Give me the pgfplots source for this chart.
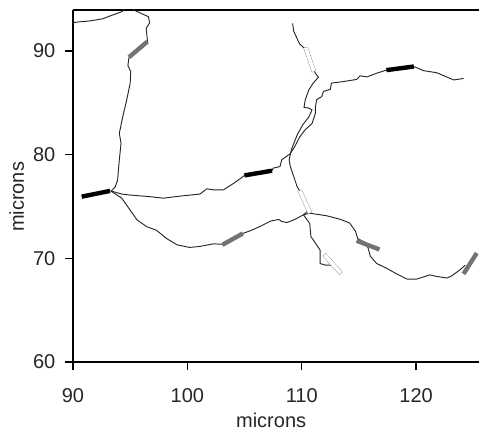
\documentclass[border=0pt]{standalone}
\usepackage{fontspec}
\setmainfont{Liberation Sans}
\usepackage{pgfplots}
\pgfplotsset{compat=1.18}
\begin{document}
\begin{tikzpicture}
\begin{axis}[
    name=ax,
    scale only axis,
    width=304.5pt, height=264pt,
    xmin=90, xmax=125.5, ymin=60, ymax=93.95,
    axis x line*=box, axis y line*=left,
    axis line style={-, line width=1.1pt, black},
    xtick pos=bottom, ytick pos=left,
    xtick={90,100,110,120}, ytick={60,70,80,90},
    tick align=outside,
    major tick length=6pt,
    every tick/.style={black, line width=1.1pt},
    /pgf/number format/assume math mode=true,
    tick label style={font=\fontsize{15}{18}\selectfont, text=black!85},
    label style={font=\fontsize{15}{18}\selectfont, text=black!85},
    xticklabel style={yshift=-10pt},
    yticklabel style={xshift=-3.75pt},
    xlabel={microns}, ylabel={microns},
    xlabel style={at={(axis description cs:0.488,-0.165)}, anchor=center},
    ylabel style={at={(axis description cs:-0.1387,0.469)}, anchor=center},
    fiber/.style={black!85, line width=0.7pt, no marks},
    seg/.style={line width=3.3pt, no marks},
]
% fibres
\addplot[fiber] coordinates {
 (89.8,92.7) (90.5,92.8) (91.5,92.9) (92.6,93.1) (93.3,93.4) (94.3,93.8) (94.6,94.2)
 (95.1,94.2) (95.4,93.9) (96.6,93.3) (96.7,92.7) (96.4,92.2) (96.5,91.05) (96.5,90.9)
 (94.9,89.4) (94.8,88.6) (95.05,88.0) (95.0,86.9) (94.7,85.3) (94.35,83.65) (94.05,82.05)
 (94.2,81.1) (94.05,79.5) (93.9,77.55) (93.7,76.9) (93.4,76.55) (93.3,76.5)
};
\addplot[fiber] coordinates {
 (93.3,76.5) (94.26,76.2) (95.0,76.1) (96.7,75.95) (97.9,75.8) (99.36,76.0) (101.1,76.2)
 (101.7,76.7) (102.3,76.6) (103.15,76.6) (104.0,77.2) (104.9,77.9) (105.0,78.0) (107.4,78.45)
 (107.5,78.7) (108.1,78.85) (108.25,79.5) (109.0,80.1) (109.4,80.8) (109.85,81.75) (110.3,82.4)
 (110.9,83.0) (111.2,84.0) (111.2,84.6) (111.3,85.3) (111.75,85.6) (111.9,86.1) (112.5,86.3)
 (112.6,86.9) (113.65,87.05) (114.8,87.25) (115.1,87.6) (115.7,87.5) (116.55,87.85) (117.4,88.15)
 (119.8,88.5) (120.65,88.1) (121.8,87.9) (123.3,87.2) (124.15,87.35)
};
\addplot[fiber] coordinates {
 (109.2,92.65) (109.3,91.9) (109.8,90.7) (110.3,90.2) (111.0,88.2) (111.45,87.45) (111.0,86.9)
 (110.6,86.2) (110.3,85.25) (110.2,84.55) (110.6,84.5) (110.9,84.3) (110.6,83.6) (110.1,82.9)
 (109.6,81.9) (109.1,80.5) (108.9,79.5) (109.0,78.85) (109.3,77.9) (109.6,76.9) (109.85,76.45)
 (110.6,74.6) (110.15,74.2)
};
\addplot[fiber] coordinates {
 (93.3,76.5) (94.26,75.8) (95.0,74.65) (95.6,73.7) (96.45,73.05) (97.3,72.7) (98.2,71.9)
 (99.1,71.3) (100.2,71.05) (101.1,71.15) (102.3,71.4) (103.06,71.35) (104.85,72.4) (105.6,72.7)
 (106.4,73.1) (107.3,73.6) (108.0,73.75) (108.25,73.55) (108.7,73.45) (109.4,73.75) (110.15,74.2)
};
\addplot[fiber] coordinates {
 (110.15,74.2) (110.7,74.35) (112.2,74.1) (113.4,73.75) (114.2,73.4) (114.7,72.6) (114.9,71.9)
 (115.6,71.5) (115.8,71.0) (116.0,70.2) (116.55,69.5) (117.4,69.05) (118.3,68.5) (119.2,68.0)
 (120.05,68.0) (121.2,68.4) (121.8,68.25) (122.7,68.1) (123.1,68.3) (123.85,68.9) (124.3,69.35)
};
\addplot[fiber] coordinates {
 (110.15,74.2) (110.7,73.35) (110.8,72.1) (111.3,71.3) (111.6,70.8) (111.6,69.5) (112.05,69.35)
 (112.6,69.35)
};
% black segments
\addplot[seg, black] coordinates {(90.76,75.95) (93.24,76.5)};
\addplot[seg, black] coordinates {(105.0,78.0) (107.4,78.45)};
\addplot[seg, black] coordinates {(117.4,88.15) (119.8,88.5)};
% grey segments
\addplot[seg, black!55] coordinates {(96.5,90.9) (94.9,89.4)};
\addplot[seg, black!55] coordinates {(103.06,71.3) (104.85,72.4)};
\addplot[seg, black!55] coordinates {(114.8,71.7) (116.8,70.85)};
\addplot[seg, black!55] coordinates {(124.15,68.5) (125.3,70.5)};
% open segments
\addplot[no marks, black!40, line width=3.4pt, line cap=rect] coordinates {(110.4,90.15) (111.0,88.2)};
\addplot[no marks, white, line width=2.7pt, line cap=rect] coordinates {(110.4,90.15) (111.0,88.2)};
\addplot[no marks, black!40, line width=3.4pt, line cap=rect] coordinates {(109.9,76.35) (110.65,74.55)};
\addplot[no marks, white, line width=2.7pt, line cap=rect] coordinates {(109.9,76.35) (110.65,74.55)};
\addplot[no marks, black!40, line width=3.4pt, line cap=rect] coordinates {(112.1,70.2) (113.3,68.7)};
\addplot[no marks, white, line width=2.7pt, line cap=rect] coordinates {(112.1,70.2) (113.3,68.7)};
\end{axis}
\pgfresetboundingbox
\path ([shift={(-54.75pt,-52.5pt)}]ax.south west) rectangle ([shift={(0.75pt,7.5pt)}]ax.north east);
\end{tikzpicture}
\end{document}
